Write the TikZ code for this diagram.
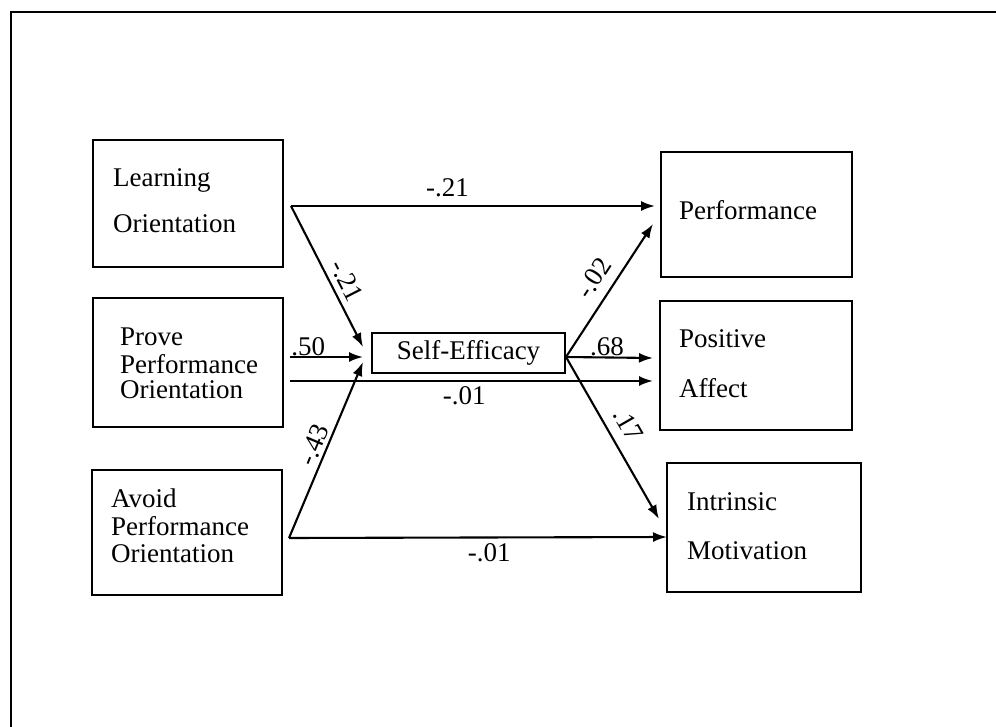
\documentclass[tikz,border=0pt]{standalone}
\usepackage{fontspec}
\setmainfont{Liberation Serif}
\usetikzlibrary{arrows.meta}
\begin{document}
\begin{tikzpicture}[x=1pt,y=-1pt,
  font=\fontsize{27}{32}\selectfont,
  box/.style={draw,line width=2.2pt,rectangle,inner sep=0pt},
  txt/.style={anchor=base west,inner sep=0pt},
  path/.style={line width=2.1pt,-{Latex[length=14pt,width=10pt]}},
  coef/.style={inner sep=2pt}]
\useasboundingbox (0,0) rectangle (996,727);
% frame (only the top and left edges are on the page)
\draw[line width=2.6pt] (11,727) -- (11,12) -- (996,12);

% boxes
\node[box,minimum width=190,minimum height=127] (learn) at (188,203.5) {};
\node[box,minimum width=190,minimum height=129] (prove) at (188,362.5) {};
\node[box,minimum width=190,minimum height=125] (avoid) at (187,532.5) {};
\node[box,minimum width=193,minimum height=40]  (se)    at (468.5,353) {Self-Efficacy};
\node[box,minimum width=191,minimum height=125] (perf)  at (756.5,214.5) {};
\node[box,minimum width=192,minimum height=129] (pa)    at (756,365.5) {};
\node[box,minimum width=194,minimum height=129] (im)    at (764,527.5) {};

% box texts
\node[txt] (learn1) at (113,187) {Learning};
\node[txt] (learn2) at (113,233) {Orientation};
\node[txt] (prove1) at (120,345) {Prove};
\node[txt] (prove2) at (120,373) {Performance};
\node[txt] (prove3) at (120,398) {Orientation};
\node[txt] (avoid1) at (111,507) {Avoid};
\node[txt] (avoid2) at (111,535) {Performance};
\node[txt] (avoid3) at (111,562) {Orientation};
\node[txt] (perf1)  at (679,220) {Performance};
\node[txt] (pa1)    at (679,348) {Positive};
\node[txt] (pa2)    at (679,397) {Affect};
\node[txt] (im1)    at (687,510) {Intrinsic};
\node[txt] (im2)    at (687,559) {Motivation};

% connector end points
\coordinate (lo)  at (291,206);
\coordinate (po1) at (290,357);
\coordinate (po2) at (290,381);
\coordinate (ao)  at (289,538);
\coordinate (sin1) at (363,347);
\coordinate (sin2) at (363,357);
\coordinate (sin3) at (363,362);
\coordinate (so)  at (566,357);
\coordinate (pin1) at (655,206);
\coordinate (pin2) at (653,224);
\coordinate (ain1) at (653,358);
\coordinate (ain2) at (653,381);
\coordinate (iin1) at (659,519);
\coordinate (iin2) at (667,537);

% paths
\draw[path] (lo) -- node[coef,pos=0.43,above=6pt] {-.21} (pin1);
\draw[path] (lo) -- node[coef,pos=0.58,sloped,above=4pt] {-.21} (sin1);
\draw[path] (po1) -- node[coef,pos=0.25,above,inner sep=0pt] {.50} (sin2);
\draw[path] (po2) -- node[coef,pos=0.48,below=2pt] {-.01} (ain2);
\draw[path] (ao) -- node[coef,pos=0.5,sloped,above=1pt] {-.43} (sin3);
\draw[path] (ao) -- node[coef,pos=0.53,below=3pt] {-.01} (iin2);
\draw[path] (so) -- node[coef,pos=0.51,sloped,above=8pt] {-.02} (pin2);
\draw[path] (so) -- node[coef,pos=0.47,above,inner sep=1pt] {.68} (ain1);
\draw[path] (so) -- node[coef,pos=0.48,sloped,above=8pt] {.17} (iin1);
\end{tikzpicture}
\end{document}
